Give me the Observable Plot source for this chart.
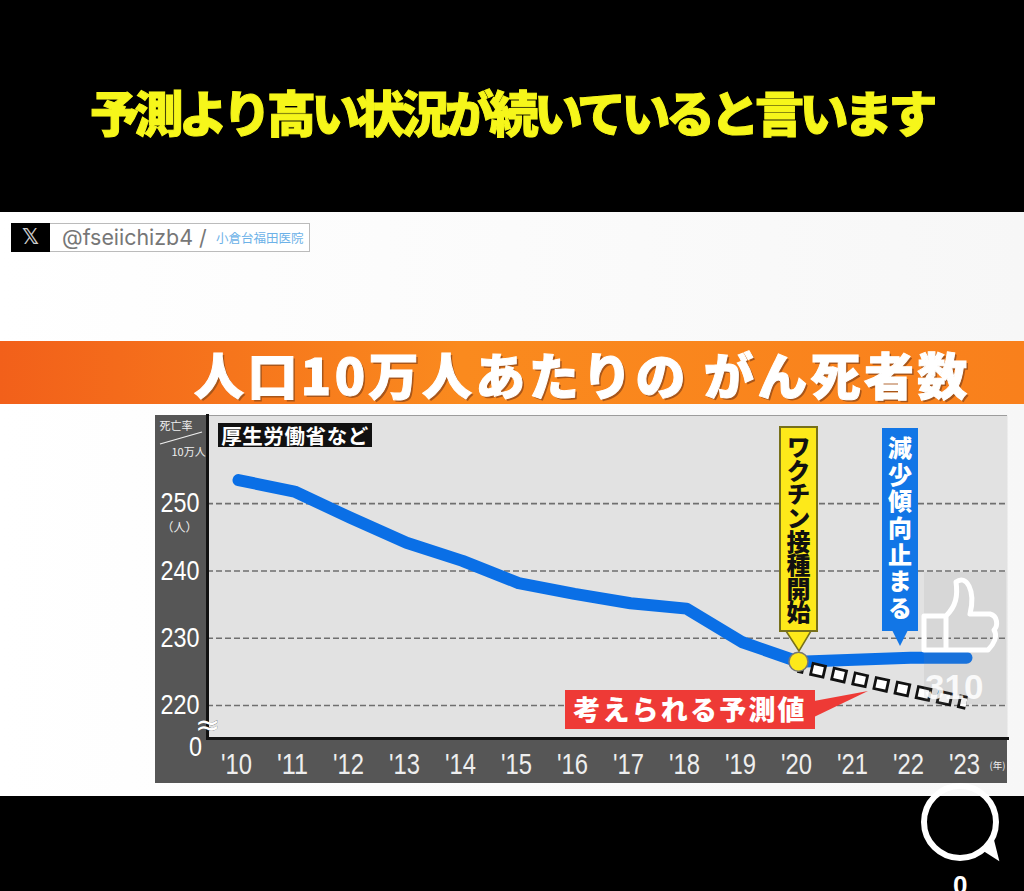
<!DOCTYPE html>
<html lang="ja"><head><meta charset="utf-8">
<script src="https://cdn.jsdelivr.net/npm/d3@7"></script>
<script src="https://cdn.jsdelivr.net/npm/@observablehq/plot@0.6"></script>
<style>
html,body{margin:0;padding:0;background:#000;width:1024px;height:891px;overflow:hidden}
*{box-sizing:border-box}
.a{position:absolute;white-space:nowrap}
body{font-family:"Noto Sans CJK JP",sans-serif}
#title{left:90px;top:76px;width:843px;text-align:left;color:#f6f61a;font-size:49px;font-weight:900;letter-spacing:-4.5px;line-height:70px;-webkit-text-stroke:1px #f6f61a}
#paper{left:0;top:212px;width:1024px;height:584px;background:linear-gradient(90deg,#fff,#f7f7f7)}
#xbox{left:11px;top:223px;width:299px;height:29px;background:#fff;border:1px solid #bbb}
#xmark{left:11px;top:223px;width:39px;height:29px;background:#000;color:#ccc;font:700 21px/29px "DejaVu Sans";text-align:center}
#handle{left:62px;top:223px;color:#777;font:400 21.4px/29px Inter,sans-serif}
#clinic{left:216px;top:223px;color:#6db2e8;font:400 12.5px/30px "Noto Sans CJK JP"}
#banner{left:0;top:341px;width:1024px;height:63px;background:linear-gradient(90deg,#f2601a,#fa8a1e 45%,#f9801c)}
#bannerText{left:194px;top:341px;color:#fff;font-size:50px;font-weight:900;line-height:64px;text-shadow:2px 2px 0 #a8561a;letter-spacing:3.4px;-webkit-text-stroke:1px #fff}
#chart{left:155px;top:415px;width:852px;height:368px}
#source{left:218px;top:423px;width:154px;height:24px;background:#111;color:#fff;font-size:20.5px;font-weight:700;line-height:24px;text-align:center;letter-spacing:.6px}
.call{writing-mode:vertical-rl;text-orientation:upright;font-weight:900;text-align:center;display:flex;align-items:center;justify-content:center}
#vax{left:779px;top:426px;width:39px;height:206px;background:#fde91a;border:2px solid #77701a;color:#111;font-size:24px;letter-spacing:-.4px}
#stop{left:882px;top:428px;width:36px;height:203px;background:#1276e6;color:#fff;font-size:24px;letter-spacing:2.6px}
#pred{left:565px;top:690px;width:250px;height:39px;background:#ee3a36;color:#fff;font-size:27px;font-weight:900;line-height:38px;text-align:center;letter-spacing:2.2px}
#likes{left:925px;top:667px;color:#fff;opacity:.85;font:700 35px/40px "Liberation Sans"}
#zero{left:953px;top:867px;color:#fff;font:700 26px/36px "Liberation Sans"}
svg.o{position:absolute;left:0;top:0}
</style></head><body>
<div class="a" id="title">予測より高い状況が続いていると言います</div>
<div class="a" id="paper"></div>
<div class="a" id="xbox"></div><div class="a" id="xmark">𝕏</div>
<div class="a" id="handle">@fseiichizb4 /</div><div class="a" id="clinic">小倉台福田医院</div>
<div class="a" id="banner"></div><div class="a" id="bannerText">人口10万人あたりの がん死者数</div>
<div class="a" id="chart"></div>
<div class="a" id="source">厚生労働省など</div>
<svg class="o" width="1024" height="891" style="pointer-events:none">
 <path d="M786 631 L799 651 L811 631 Z" fill="#fde91a" stroke="#77701a" stroke-width="1.5"/>
 <path d="M892 630 L900 646 L908 630 Z" fill="#1276e6"/>
 <path d="M814 701 L868 691 L814 717 Z" fill="#ee3a36"/>
</svg>
<div class="a call" id="vax">ワクチン接種開始</div>
<div class="a call" id="stop">減少傾向止まる</div>
<div class="a" id="pred">考えられる予測値</div>
<svg class="o" width="1024" height="891" style="pointer-events:none">
 <rect x="924" y="572" width="82" height="132" fill="#888" opacity=".12"/>
 <path d="M946 616 L946 650 L924 650 L924 616 Z M946 616 C956 606 958 596 956 582 C966 574 976 590 970 614 L990 614 C998 616 998 626 994 630 C998 636 994 644 988 650 L946 650" fill="none" stroke="#fff" stroke-width="5" stroke-linejoin="round"/>
 <circle cx="960" cy="822" r="36" fill="none" stroke="#fff" stroke-width="6"/>
 <path d="M983 849 L997 858 L992 838" fill="#fff" stroke="#fff" stroke-width="3"/>
</svg>
<div class="a" id="likes">310</div>
<div class="a" id="zero">0</div>
<script>
const years = ["'10","'11","'12","'13","'14","'15","'16","'17","'18","'19","'20","'21","'22","'23"];
const actual = [253.5,251.8,247.9,244.2,241.5,238.2,236.6,235.2,234.4,229.4,226.5,226.8,227.1,227.1];
const forecastYears = ["'20","'21","'22","'23"];
const forecast = [225.9,224.0,222.2,220.4];
const gridValues = [220,230,240,250];
const actualRows = years.map((x,i)=>({x,y:actual[i]}));
const forecastRows = forecastYears.map((x,i)=>({x,y:forecast[i]}));
const digits = "'Liberation Sans',Arial,sans-serif";
const cjk = "Noto Sans CJK JP";
const plot = Plot.plot({
  width:852,height:368,marginLeft:52,marginRight:0,marginTop:0,marginBottom:45,
  style:{background:"#565656",fontFamily:digits,overflow:"visible"},
  x:{type:"point",domain:years,range:[79,815.5],padding:0,label:null},
  y:{type:"linear",domain:[215.1,263.1],label:null},
  marks:[
    Plot.frame({fill:"#e2e2e2",stroke:null}),
    Plot.ruleY(gridValues,{stroke:"#6f6f6f",strokeWidth:1.6,strokeDasharray:"6 3"}),
    Plot.frame({anchor:"left",stroke:"#111",strokeWidth:3}),
    Plot.frame({anchor:"bottom",stroke:"#111",strokeWidth:3}),
    Plot.axisY({ticks:gridValues,tickSize:0,tickPadding:8,fill:"#fff",fontSize:27,label:null,className:"ny"}),
    Plot.axisX({tickSize:0,tickPadding:14,dx:-2,fill:"#eee",fontSize:30,label:null,className:"nx"}),
    Plot.line(actualRows,{x:"x",y:"y",stroke:"#0a6fe6",strokeWidth:12,strokeLinecap:"round",strokeLinejoin:"round"}),
    Plot.line(forecastRows,{x:"x",y:"y",stroke:"#111",strokeWidth:14,strokeLinecap:"butt",strokeDasharray:"15.5 6.1",strokeDashoffset:-12.3}),
    Plot.line(forecastRows,{x:"x",y:"y",stroke:"#fff",strokeWidth:8.5,strokeLinecap:"butt",strokeDasharray:"10 11.6",strokeDashoffset:-15}),
    Plot.dot([actualRows[10]],{x:"x",y:"y",r:9.5,fill:"#fde91a",stroke:"#777",strokeWidth:1.5}),
    Plot.text([250],{y:d=>d,frameAnchor:"left",dx:-28,dy:25,text:()=>"（人）",fill:"#eee",fontSize:12,fontFamily:cjk,textAnchor:"middle"}),
    Plot.text([215.1],{y:d=>d,frameAnchor:"left",dx:-12,dy:9,text:()=>"0",fill:"#fff",fontSize:27,textAnchor:"middle",className:"nz"}),
    Plot.text([215.1],{y:d=>d,frameAnchor:"left",dx:0,dy:-13,text:()=>"≈",fill:"#fff",stroke:"#333",strokeWidth:.4,fontSize:30,textAnchor:"middle",fontFamily:"DejaVu Sans"}),
    Plot.text([261.4],{y:d=>d,frameAnchor:"left",dx:-48,text:()=>"死亡率",fill:"#eee",fontSize:11,fontFamily:cjk,textAnchor:"start"}),
    Plot.text([257.6],{y:d=>d,frameAnchor:"left",dx:-36,text:()=>"10万人",fill:"#eee",fontSize:11,fontFamily:cjk,textAnchor:"start"}),
    Plot.text([215.1],{y:d=>d,frameAnchor:"right",dx:-2,dy:27,text:()=>"(年)",fill:"#eee",fontSize:9.5,fontFamily:cjk,textAnchor:"end"}),
    () => d3.create("svg:path").attr("d","M5 29 L47 17").attr("stroke","#eee").attr("stroke-width",1.3).attr("fill","none").node()
  ]
});
document.getElementById("chart").append(plot);
const squeeze = (sel,len) => plot.querySelectorAll(sel+" text").forEach(t=>{t.setAttribute("textLength",len);t.setAttribute("lengthAdjust","spacingAndGlyphs");});
squeeze(".nx",31); squeeze(".ny",39); squeeze(".nz",13);
</script>
</body></html>
